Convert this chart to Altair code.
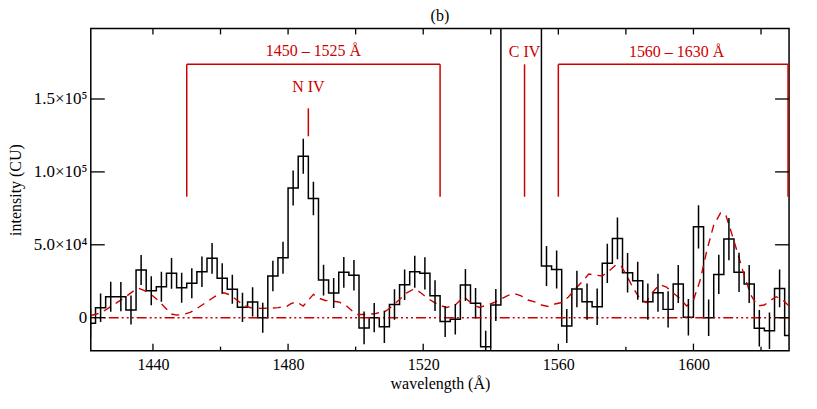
import altair as alt
import pandas as pd

RED = "#cc0000"
FONT = "Liberation Serif"

# ---------------- data ----------------
# histogram bins (left edges, 3 A wide), below C IV
edges_left = [1420, 1423, 1426, 1429, 1432, 1435, 1438, 1441, 1444, 1447,
              1450, 1453, 1456, 1459, 1462, 1465, 1468, 1471, 1474, 1477,
              1480, 1483, 1486, 1489, 1492, 1495, 1498, 1501, 1504, 1507,
              1510, 1513, 1516, 1519, 1522, 1525, 1528, 1531, 1534, 1537, 1540]
counts_left = [-3800, 6850, 14400, 14400, 5300, 32700, 18500, 21200, 30400, 20500,
               23600, 31500, 40700, 27000, 19500, 7100, 10800, 0, 28600, 41100,
               89000, 110700, 81800, 25800, 16900, 31100, 29100, -7000, 0, -6300,
               9000, 22600, 31500, 30400, 15100, -2700, -1100, 22400, 9900, -19900, 8700]
errors_left = [10000, 9800, 10300, 10000, 10000, 10300, 10000, 10300, 10500, 10300,
               10300, 10500, 10500, 10300, 10000, 10000, 10000, 10300, 10500, 11000,
               12000, 12000, 11500, 10500, 10300, 10500, 10500, 11200, 10000, 11000,
               10500, 10500, 11000, 11000, 10500, 10500, 10500, 11000, 10500, 11000, 11000]

# C IV bins: off scale
edges_civ = [1543, 1546, 1549, 1552]
counts_civ = [600000, 900000, 800000, 500000]

# histogram bins above C IV
edges_right = [1555, 1558, 1561, 1564, 1567, 1570, 1573, 1576, 1579, 1582,
               1585, 1588, 1591, 1594, 1597, 1600, 1603, 1606, 1609, 1612,
               1615, 1618, 1621, 1624, 1627]
counts_right = [35400, 33100, -5700, 19700, 11000, 7500, 37300, 54400, 30800, 25300,
                11000, 17100, 5700, 23100, 300, 62300, 0, 29700, 53900, 31100,
                23100, -7300, -8900, 20100, -12300]
errors_right = [13700, 13000, 11600, 12500, 12500, 12500, 13500, 14300, 13500, 13000,
                12500, 13000, 12500, 13000, 12500, 14800, 12500, 13500, 14500, 13500,
                13000, 12500, 12500, 13000, 12500]
last_edge = 1630
bin_width = 3

# model spectrum (red dashed)
model_wl = [1421.6, 1424, 1426, 1428, 1430, 1432, 1434, 1435.7, 1437.5, 1440,
            1442, 1444, 1445.5, 1447, 1449, 1451, 1453, 1455, 1457, 1459,
            1461, 1463, 1465, 1467, 1469, 1472, 1475, 1477, 1479.5, 1481,
            1482.5, 1484.5, 1486, 1487.5, 1489, 1491, 1493, 1495, 1497, 1499, 1500.5,
            1503, 1506, 1509, 1511, 1513, 1515, 1517.3, 1519, 1521, 1523,
            1525, 1527, 1529.5, 1532, 1534.5, 1536.5, 1539, 1541, 1543, 1545,
            1547, 1549, 1551, 1553, 1555, 1557, 1559, 1561, 1563, 1565,
            1567, 1569, 1571, 1573, 1575, 1577, 1578.5, 1580, 1582, 1584,
            1586, 1588, 1590, 1592, 1594, 1596, 1598, 1600, 1602, 1604,
            1606, 1608, 1609.5, 1611, 1613, 1615, 1617, 1619, 1621, 1623,
            1624.5, 1626.5, 1628.3]
model_val = [1500, 2900, 5300, 8400, 11400, 14500, 17900, 20300, 18600, 14900,
             10800, 6000, 2500, 1800, 2200, 3600, 6300, 9400, 12500, 15500,
             17100, 15500, 11800, 8400, 6800, 6400, 6600, 6900, 7600, 9800,
             10800, 8000, 12000, 16000, 13500, 11800, 11400, 10800, 8700, 4600, 2200,
             2200, 2900, 4600, 8400, 12500, 16900, 19700, 17600, 13800, 10800,
             8400, 7000, 8700, 14400, 9400, 7000, 8700, 10400, 12800, 15200,
             16600, 14900, 12100, 10800, 8700, 7700, 9400, 10400, 14200, 19700,
             24500, 29900, 29200, 28600, 32000, 36100, 35800, 29900, 21000, 13500,
             10400, 17600, 22700, 21000, 16900, 13200, 8000, 12100, 25800, 46400,
             63500, 71700, 71000, 60100, 45000, 29200, 15500, 8000, 8700, 12100,
             14400, 12100, 8000]

# annotations
bracket_start = [1450, 1560]
bracket_end = [1525, 1628]
bracket_top = 173800
bracket_bottom = 83000
niv_wl = 1486
niv_range = [124400, 143600]
civ_wl = 1550
label_text = ["1450 \u2013 1525 \u00c5", "N IV", "C IV", "1560 \u2013 1630 \u00c5"]
label_x = [1487.5, 1486, 1550, 1595]
label_y = [183200, 158000, 182500, 182500]
panel_title = "(b)"

# axes
x_domain = [1421.6, 1628.3]
y_domain = [-22600, 198400]
x_major = [1440, 1480, 1520, 1560, 1600]
x_minor = [1460, 1500, 1540, 1580, 1620]
y_ticks = [0, 50000, 100000, 150000]
y_tick_labels = ["0", "5.0\u00d710\u2074", "1.0\u00d710\u2075", "1.5\u00d710\u2075"]

W, H = 700, 323

# ---------------- frames ----------------
hist_df = pd.DataFrame({
    "wl": edges_left + edges_civ + edges_right + [last_edge],
    "val": counts_left + counts_civ + counts_right + [counts_right[-1]],
})
err_df = pd.DataFrame({
    "wl": [e + bin_width / 2 for e in edges_left + edges_right],
    "val": [v - e for v, e in zip(counts_left + counts_right, errors_left + errors_right)],
    "hi": [v + e for v, e in zip(counts_left + counts_right, errors_left + errors_right)],
})
model_df = pd.DataFrame({"wl": model_wl, "val": model_val})
zero_df = pd.DataFrame({"val": [0]})
br_df = pd.DataFrame({"wl": bracket_start, "x2": bracket_end, "val": [bracket_top] * 2})
leg_df = pd.DataFrame({
    "wl": bracket_start + bracket_end + [civ_wl, niv_wl],
    "val": [bracket_bottom] * 4 + [bracket_bottom, niv_range[0]],
    "y2": [bracket_top] * 4 + [bracket_top, niv_range[1]],
})
lab_df = pd.DataFrame({"t": label_text, "wl": label_x, "val": label_y})
title_df = pd.DataFrame({"t": [panel_title]})
xmaj_df = pd.DataFrame({"wl": x_major})
xmin_df = pd.DataFrame({"wl": x_minor})
xall_df = pd.DataFrame({"wl": x_major + x_minor})
yt_df = pd.DataFrame({"val": y_ticks})

xs = alt.Scale(domain=x_domain, nice=False, zero=False)
ys = alt.Scale(domain=y_domain, nice=False, zero=False)

label_expr = " : ".join(
    f"datum.value == {v} ? '{t}'" for v, t in zip(y_ticks[:-1], y_tick_labels[:-1])
) + f" : '{y_tick_labels[-1]}'"

x_axis = alt.Axis(values=x_major, format="d", ticks=False, domain=False, grid=False,
                  labelPadding=6, title="wavelength (\u00c5)", titleX=W / 2, titleY=33,
                  titleBaseline="middle")
y_axis = alt.Axis(values=y_ticks, labelExpr=label_expr, ticks=False, domain=False, grid=False,
                  labelPadding=4, labelFontSize=17, title="intensity (CU)", titleX=-75,
                  titleY=H / 2, titleAngle=-90, titleBaseline="middle", titleAlign="center")

X = alt.X("wl:Q", scale=xs, axis=x_axis)
Y = alt.Y("val:Q", scale=ys, axis=y_axis)

hist = alt.Chart(hist_df).mark_line(interpolate="step-after", color="black",
                                    strokeWidth=1.5, clip=True).encode(x=X, y=Y)
errs = alt.Chart(err_df).mark_rule(color="black", strokeWidth=1.5, clip=True).encode(
    x=X, y=Y, y2="hi:Q")
model = alt.Chart(model_df).mark_line(color=RED, strokeWidth=1.4, strokeDash=[8, 6],
                                      clip=True).encode(x=X, y=Y)
zero = alt.Chart(zero_df).mark_rule(color=RED, strokeWidth=1.4,
                                    strokeDash=[10, 3, 2, 3, 2, 3, 2, 3]).encode(y=Y)
brackets = alt.Chart(br_df).mark_rule(color=RED, strokeWidth=1.5).encode(
    x=X, x2="x2:Q", y=Y)
legs = alt.Chart(leg_df).mark_rule(color=RED, strokeWidth=1.5).encode(
    x=X, y=Y, y2="y2:Q")
labels = alt.Chart(lab_df).mark_text(color=RED, font=FONT, fontSize=16,
                                     align="center", baseline="middle").encode(
    x=X, y=Y, text="t:N")
title_mark = alt.Chart(title_df).mark_text(color="black", font=FONT, fontSize=16,
                                           align="center", baseline="middle").encode(
    x=alt.value(W / 2), y=alt.value(-12), text="t:N")
tick_bot_major = alt.Chart(xmaj_df).mark_rule(color="black", strokeWidth=1.3).encode(
    x=X, y=alt.value(H), y2=alt.value(H - 7))
tick_bot_minor = alt.Chart(xmin_df).mark_rule(color="black", strokeWidth=1.3).encode(
    x=X, y=alt.value(H), y2=alt.value(H - 4))
tick_top = alt.Chart(xall_df).mark_rule(color="black", strokeWidth=1.3).encode(
    x=X, y=alt.value(0), y2=alt.value(6))
tick_left = alt.Chart(yt_df).mark_rule(color="black", strokeWidth=1.3).encode(
    y=Y, x=alt.value(0), x2=alt.value(14))
tick_right = alt.Chart(yt_df).mark_rule(color="black", strokeWidth=1.3).encode(
    y=Y, x=alt.value(W), x2=alt.value(W - 14))

chart = alt.layer(
    hist, zero, model, errs, brackets, legs, labels, title_mark,
    tick_bot_major, tick_bot_minor, tick_top, tick_left, tick_right,
).properties(
    width=W, height=H,
    autosize=alt.AutoSizeParams(type="none"),
    padding={"left": 83, "top": 20, "right": 20, "bottom": 50},
).configure_view(
    stroke="black", strokeWidth=1.5
).configure_axis(
    labelFont=FONT, labelFontSize=16, labelColor="black",
    titleFont=FONT, titleFontSize=16, titleFontWeight="normal", titleColor="black",
)

chart.save("out.html", embed_options={"renderer": "svg", "actions": False})
